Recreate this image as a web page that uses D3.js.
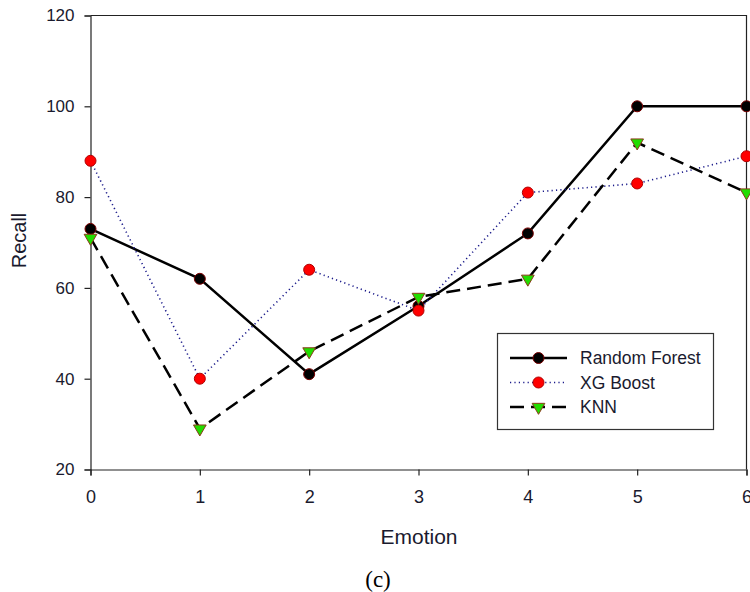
<!DOCTYPE html>
<html>
<head>
<meta charset="utf-8">
<script src="https://cdn.jsdelivr.net/npm/d3@7"></script>
<style>
  html, body { margin: 0; padding: 0; background: #fff; }
  svg { display: block; }
</style>
</head>
<body>
<script>
// Recall per emotion class for three classifiers
const emotions = [0, 1, 2, 3, 4, 5, 6];
const randomForest = [73, 62, 41, 56, 72, 100, 100];
const xgBoost = [88, 40, 64, 55, 81, 83, 89];
const knn = [71, 29, 46, 58, 62, 92, 81];
const yTicks = [20, 40, 60, 80, 100, 120];
const seriesNames = ["Random Forest", "XG Boost", "KNN"];

const W = 750, H = 592;
const svg = d3.select("body").append("svg").attr("width", W).attr("height", H);

const x = d3.scaleLinear().domain([0, 6]).range([90.5, 746.5]);
const y = d3.scaleLinear().domain([20, 120]).range([469.5, 15.5]);

const font = "'Liberation Sans', Arial, sans-serif";
const textColor = "#1a1a2e";

// frame: top and right edges
svg.append("path")
  .attr("d", `M${x(0)},${y(120)}H${x(6)}V${y(20)}`)
  .attr("fill", "none").attr("stroke", "#222").attr("stroke-width", 1.2);

// axes
const yAxis = svg.append("g").attr("transform", `translate(${x(0)},0)`)
  .call(d3.axisLeft(y).tickValues(yTicks).tickSize(6).tickPadding(10));
const xAxis = svg.append("g").attr("transform", `translate(0,${y(20)})`)
  .call(d3.axisBottom(x).tickValues(emotions).tickFormat(d3.format("d")).tickSize(6).tickPadding(15));
[yAxis, xAxis].forEach(g => {
  g.select(".domain").attr("stroke", "#222").attr("stroke-width", 1.2);
  g.selectAll(".tick line").attr("stroke", "#222").attr("stroke-width", 1.2);
  g.selectAll("text").attr("font-family", font).attr("fill", textColor);
});
yAxis.selectAll("text").attr("font-size", 17);
xAxis.selectAll("text").attr("font-size", 18);

// axis titles
svg.append("text").attr("x", 419).attr("y", 544).attr("text-anchor", "middle")
  .attr("font-family", font).attr("font-size", 21).attr("fill", textColor).text("Emotion");
svg.append("text").attr("transform", `translate(26,240.5) rotate(-90)`).attr("text-anchor", "middle")
  .attr("font-family", font).attr("font-size", 20).attr("fill", textColor).text("Recall");
svg.append("text").attr("x", 378).attr("y", 587).attr("text-anchor", "middle")
  .attr("font-family", "'Liberation Serif', 'Times New Roman', serif").attr("font-size", 23).attr("fill", "#000").text("(c)");

const styles = [
  { data: randomForest, stroke: "#000", width: 2.5, dash: null, marker: "circle", fill: "#000", mstroke: "#7a0000" },
  { data: xgBoost, stroke: "#1a1a8a", width: 1.6, dash: "1.2,3.2", marker: "circle", fill: "#ff0000", mstroke: "#b00000" },
  { data: knn, stroke: "#000", width: 2.5, dash: "14,7", marker: "triangle", fill: "#22dd00", mstroke: "#8b3a1a" }
];

const line = d3.line().x((d, i) => x(emotions[i])).y(d => y(d));
const tri = d3.symbol().type(d3.symbolTriangle).size(70);

function drawMarker(g, cx, cy, s) {
  if (s.marker === "circle") {
    g.append("circle").attr("cx", cx).attr("cy", cy).attr("r", 5.5)
      .attr("fill", s.fill).attr("stroke", s.mstroke).attr("stroke-width", 1);
  } else {
    g.append("path").attr("d", tri).attr("transform", `translate(${cx},${cy}) rotate(180)`)
      .attr("fill", s.fill).attr("stroke", s.mstroke).attr("stroke-width", 1);
  }
}

styles.forEach(s => {
  svg.append("path").datum(s.data).attr("d", line)
    .attr("fill", "none").attr("stroke", s.stroke).attr("stroke-width", s.width)
    .attr("stroke-dasharray", s.dash);
});
styles.forEach(s => {
  const g = svg.append("g");
  s.data.forEach((v, i) => drawMarker(g, x(emotions[i]), y(v), s));
});

// legend
const lg = svg.append("g");
lg.append("rect").attr("x", 497.5).attr("y", 333.5).attr("width", 216).attr("height", 96)
  .attr("fill", "#fff").attr("stroke", "#333").attr("stroke-width", 1.2);
styles.forEach((s, i) => {
  const ly = 358 + i * 24.5;
  lg.append("line").attr("x1", 510).attr("x2", 567).attr("y1", ly).attr("y2", ly)
    .attr("stroke", s.stroke).attr("stroke-width", s.width).attr("stroke-dasharray", s.dash);
  drawMarker(lg, 538.5, ly, s);
  lg.append("text").attr("x", 580).attr("y", ly).attr("dy", "0.35em")
    .attr("font-family", font).attr("font-size", 17.5).attr("fill", textColor).text(seriesNames[i]);
});
</script>
</body>
</html>
